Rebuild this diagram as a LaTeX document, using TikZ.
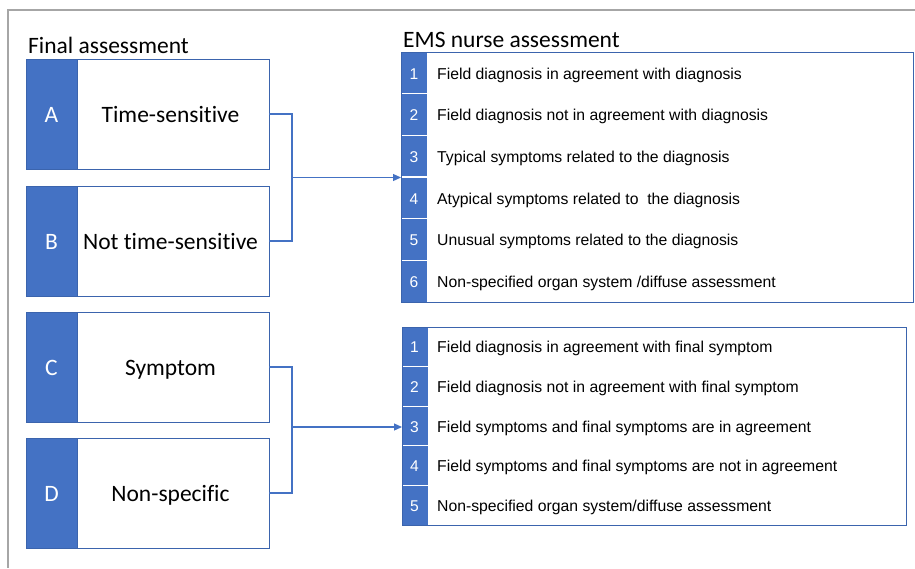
\documentclass[tikz,border=0pt]{standalone}
\usepackage{fontspec}
\setmainfont{Carlito}[Ligatures=NoCommon]
\newfontfamily\arialf{Liberation Sans}
\usetikzlibrary{arrows.meta}
\definecolor{stripblue}{HTML}{4472C4}
\definecolor{edgeblue}{HTML}{3B64AD}
\definecolor{framegray}{HTML}{A6A6A6}
\begin{document}
\begin{tikzpicture}[x=1pt,y=-1pt,
  catbox/.style={draw=edgeblue, line width=1pt, fill=white, minimum width=243pt,
    minimum height=110pt, inner sep=0pt, outer sep=0pt, anchor=north west},
  catstrip/.style={fill=stripblue, draw=edgeblue, line width=1pt, minimum width=51pt,
    minimum height=110pt, inner sep=0pt, outer sep=0pt, anchor=west},
  catletter/.style={font=\fontsize{23.5}{26}\selectfont, inner sep=0pt, text=white, anchor=base},
  cattext/.style={font=\fontsize{23.5}{26}\selectfont, inner sep=0pt, anchor=base},
  heading/.style={font=\fontsize{23.5}{26}\selectfont, inner sep=0pt, anchor=base west},
  listbox/.style={draw=edgeblue, line width=1pt, inner sep=0pt, outer sep=0pt, anchor=north west},
  numcell/.style={fill=stripblue, inner sep=0pt, outer sep=0pt, anchor=north west,
    minimum width=26pt},
  numtext/.style={text=white, inner sep=0pt, anchor=base, font=\arialf\fontsize{15.6}{18}\selectfont},
  itemtext/.style={anchor=base west, inner sep=0pt, font=\arialf\fontsize{15.75}{18}\selectfont},
  conn/.style={draw=stripblue, line width=1.2pt},
  tip/.style={-{Triangle[length=8pt,width=7pt]}}
]
\useasboundingbox (0,0) rectangle (915,568);

% outer frame
\draw[framegray, line width=2pt] (915,10) -- (8,10) -- (8,568);

% headings
\node[heading] (hleft) at (28,53) {Final assessment};
\node[heading] (hright) at (403,47) {EMS nurse assessment};

% final assessment categories
\foreach \nm/\y/\lab/\txt in {A/59/A/Time-sensitive, B/186/B/Not time-sensitive,
                              C/312/C/Symptom, D/438/D/Non-specific}{
  \node[catbox] (\nm) at (26,\y) {};
  \node[catstrip] (\nm s) at (\nm.west) {};
  \node[catletter] (\nm l) at (51.5,\y+63.3) {\lab};
  \node[cattext] (\nm t) at (170.5,\y+63.3) {\txt};
}

% first assessment list
\node[listbox, minimum width=512pt, minimum height=250pt] (R1) at (401,52) {};
\foreach \i/\txt in {1/{Field diagnosis in agreement with diagnosis},
                     2/{Field diagnosis not in agreement with diagnosis},
                     3/{Typical symptoms related to the diagnosis},
                     4/{Atypical symptoms related to\ \ the diagnosis},
                     5/{Unusual symptoms related to the diagnosis},
                     6/{Non-specified organ system /diffuse assessment}}{
  \node[numcell, minimum height=41.67pt] (R1n\i) at (401,52+41.667*\i-41.667) {};
  \node[numtext] (R1k\i) at (414,52+41.667*\i-14.5) {\i};
  \node[itemtext] (R1t\i) at (437,52+41.667*\i-14.5) {\txt};
}
\foreach \i in {1,...,5}{
  \draw[white, line width=1.2pt] (R1n\i.south west) ++(1,0) -- (R1n\i.south east);
}
\node[listbox, minimum width=512pt, minimum height=250pt] (R1f) at (401,52) {};

% second assessment list
\node[listbox, minimum width=504pt, minimum height=198pt] (R2) at (402,327) {};
\foreach \i/\txt in {1/{Field diagnosis in agreement with final symptom},
                     2/{Field diagnosis not in agreement with final symptom},
                     3/{Field symptoms and final symptoms are in agreement},
                     4/{Field symptoms and final symptoms are not in agreement},
                     5/{Non-specified organ system/diffuse assessment}}{
  \node[numcell, minimum height=39.6pt] (R2n\i) at (402,327+39.6*\i-39.6) {};
  \node[numtext] (R2k\i) at (414.5,327+39.6*\i-13.8) {\i};
  \node[itemtext] (R2t\i) at (437,327+39.6*\i-13.8) {\txt};
}
\foreach \i in {1,...,4}{
  \draw[white, line width=1.2pt] (R2n\i.south west) ++(1,0) -- (R2n\i.south east);
}
\node[listbox, minimum width=504pt, minimum height=198pt] (R2f) at (402,327) {};

% connectors
\coordinate (j1) at (292,177.5);
\coordinate (j2) at (292,427);
\draw[conn] (A.east) -| (j1);
\draw[conn] (B.east) -| (j1);
\draw[conn, tip] (j1) -- (R1.west |- j1);
\draw[conn] (C.east) -| (j2);
\draw[conn] (D.east) -| (j2);
\draw[conn, tip] (j2) -- (R2.west |- j2);
\end{tikzpicture}
\end{document}
